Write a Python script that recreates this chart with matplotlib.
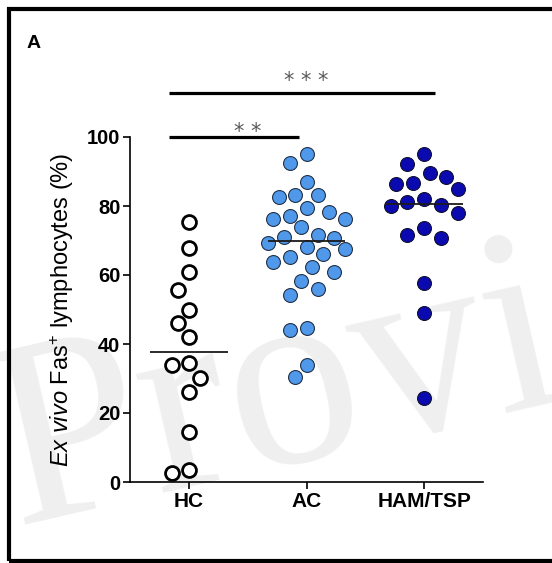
import numpy as np
import matplotlib
matplotlib.use('Agg')
import matplotlib.pyplot as plt
from matplotlib.patches import Rectangle

plt.rcParams['font.family'] = ['Liberation Sans', 'DejaVu Sans']
plt.rcParams['mathtext.fontset'] = 'custom'
plt.rcParams['mathtext.rm'] = 'Liberation Sans'
plt.rcParams['mathtext.it'] = 'Liberation Sans:italic'
plt.rcParams['mathtext.bf'] = 'Liberation Sans:bold'

# ---------------- data ----------------
categories = ['HC', 'AC', 'HAM/TSP']
hc_values = [75.4, 67.8, 60.9, 55.7, 49.9, 46.1, 42.0, 34.5, 33.9, 30.1,
             26.1, 14.5, 3.5, 2.6]
ac_values = [95.1, 92.5, 87.0, 83.2, 82.6, 83.2, 79.4, 78.3, 77.1, 76.2,
             76.2, 73.9, 71.0, 71.6, 70.7, 69.3, 67.5, 68.1, 65.2, 66.1,
             63.8, 62.3, 60.9, 58.3, 54.2, 55.9, 44.6, 44.1, 33.9, 30.4]
ham_values = [95.1, 92.2, 88.4, 89.6, 86.4, 84.9, 86.7, 82.0, 80.3, 81.2,
              80.0, 78.0, 71.6, 70.7, 73.6, 57.7, 49.0, 24.3]
center_values = [37.7, 69.9, 80.6]
y_ticks = [0, 20, 40, 60, 80, 100]
comparison_pairs = [(0, 1), (0, 2)]
comparison_labels = ['* *', '* * *']
y_label = r'$\mathit{Ex\ vivo}$ Fas$^{+}$ lymphocytes (%)'
panel_label = 'A'
watermark = 'Provis'

# ---------------- styles / layout ----------------
groups = [hc_values, ac_values, ham_values]
face_colors = ['white', '#4f98ea', '#0a0ab0']
edge_colors = ['black', '#22324a', '#101030']
edge_widths = [2.0, 0.8, 0.8]
marker_area = 100  # points^2
bar_layout = [  # (x start, x end, bar y, star y)
    (-0.17, 0.935, 100.0, 101.4),
    (-0.17, 2.094, 112.8, 116.1),
]

fig = plt.figure(figsize=(5.52, 5.63), dpi=100)
ax = fig.add_axes([130 / 552, (563 - 482) / 563, 353 / 552, 345 / 563])
ax.set_xlim(-0.5, 2.5)
ax.set_ylim(0, 100)
ax.patch.set_alpha(0)
ax.set_zorder(2)

# watermark (behind everything)
fig.text(16 / 552, (563 - 525) / 563, watermark, fontsize=190,
         family='Liberation Serif', color='#efefef', rotation=13,
         rotation_mode='anchor', ha='left', va='baseline', zorder=-5)

fig.canvas.draw()


def swarm_offsets(vals, xc, dw, dh, step):
    pts = ax.transData.transform([(xc, v) for v in vals])
    ys = pts[:, 1]
    order = np.argsort(-np.asarray(vals), kind='stable')
    steps = np.arange(0, 12) * step
    cands = sorted(set(list(steps) + list(-steps)), key=lambda c: (abs(c), c))
    placed = []
    offs = np.zeros(len(vals))
    for i in order:
        y = ys[i]
        chosen = cands[-1]
        for c in cands:
            if all(((c - px) / dw) ** 2 + ((y - py) / dh) ** 2 >= 1.0
                   for px, py in placed):
                chosen = c
                break
        placed.append((chosen, y))
        offs[i] = chosen
    x0 = ax.transData.transform((xc, 0))[0]
    xs = ax.transData.inverted().transform(
        np.column_stack([x0 + offs, ys]))[:, 0]
    return xs


diam_px = np.sqrt(marker_area) * fig.dpi / 72.0
for i, vals in enumerate(groups):
    xs = swarm_offsets(vals, i, diam_px * 0.95, diam_px * 1.45, diam_px * 0.4)
    ax.scatter(xs, vals, s=marker_area, facecolor=face_colors[i],
               edgecolor=edge_colors[i], linewidth=edge_widths[i],
               zorder=3, clip_on=False)
    ax.hlines(center_values[i], i - 0.33, i + 0.33, color='#1a1a1a',
              linewidth=1.3, zorder=4)

# significance bars
for (a, b), lab, (x1, x2, by, sy) in zip(comparison_pairs, comparison_labels, bar_layout):
    ax.plot([x1, x2], [by, by], color='black', linewidth=2.3,
            solid_capstyle='butt', clip_on=False)
    ax.text((a + b) / 2, sy, lab, ha='center', va='center', fontsize=15,
            family='DejaVu Sans', color='#5a5a5a', clip_on=False)

# axes styling
for side in ['top', 'right']:
    ax.spines[side].set_visible(False)
for side in ['left', 'bottom']:
    ax.spines[side].set_linewidth(1.2)
ax.set_yticks(y_ticks)
ax.set_xticks(range(len(categories)))
ax.set_xticklabels(categories)
ax.tick_params(axis='both', direction='out', length=5, width=1.2, pad=2)
ax.tick_params(axis='y', labelsize=14.5)
ax.tick_params(axis='x', labelsize=15, pad=2.5)
for lbl in ax.get_xticklabels() + ax.get_yticklabels():
    lbl.set_fontweight('bold')
ax.set_ylabel(y_label, fontsize=17)
ax.yaxis.set_label_coords(-0.152, 0.5)

fig.text(27 / 552, 1 - 48 / 563, panel_label, fontsize=14, fontweight='bold',
         ha='left', va='baseline')

# outer frame
fig.patches.append(Rectangle((9 / 552, 2 / 563), 0.999, 552 / 563,
                             transform=fig.transFigure, fill=False,
                             edgecolor='black', linewidth=3, zorder=10))

fig.savefig('out.png', dpi=100)
